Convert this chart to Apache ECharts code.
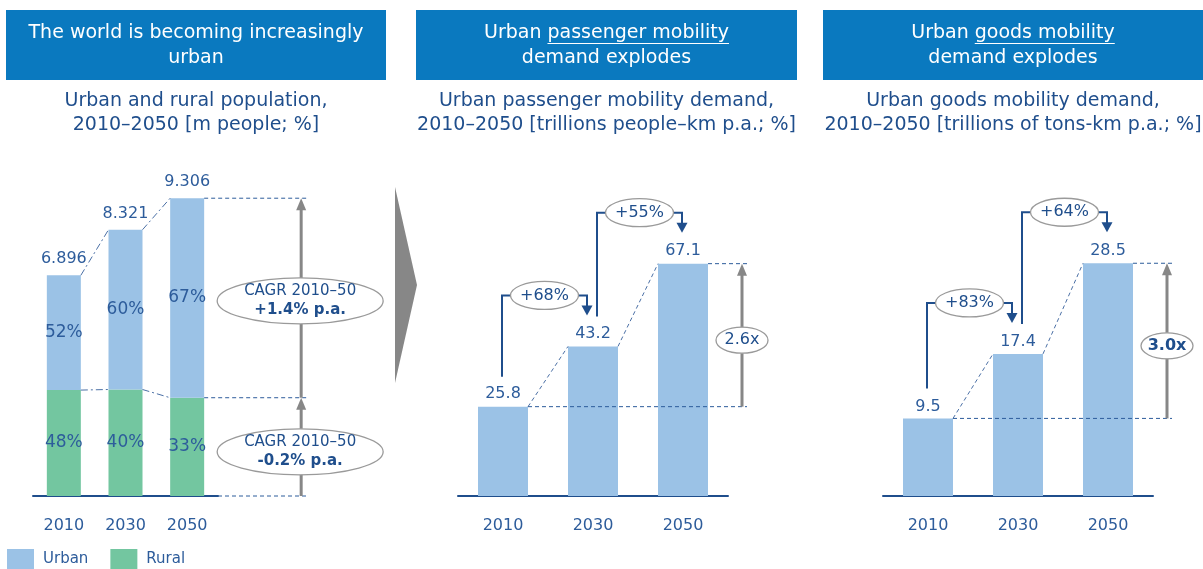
<!DOCTYPE html>
<html>
<head>
<meta charset="utf-8">
<script src="https://cdn.jsdelivr.net/npm/echarts@6/dist/echarts.min.js"></script>
<style>
  html, body { margin: 0; padding: 0; background: #fff; }
  #main { width: 1203px; height: 569px; }
</style>
</head>
<body>
<div id="main"></div>
<script>
// data
const years = ['2010', '2030', '2050'];
const popTotal = [6.896, 8.321, 9.306];
const urbanShare = [52, 60, 67];
const ruralShare = [48, 40, 33];
const popCagr = ['+1.4% p.a.', '-0.2% p.a.'];
const passenger = [25.8, 43.2, 67.1];
const passengerGrowth = ['+68%', '+55%'];
const passengerMultiple = '2.6x';
const goods = [9.5, 17.4, 28.5];
const goodsGrowth = ['+83%', '+64%'];
const goodsMultiple = '3.0x';

const popUrban = popTotal.map((t, i) => +(t * urbanShare[i] / 100).toFixed(3));
const popRural = popTotal.map((t, i) => +(t * ruralShare[i] / 100).toFixed(3));

const FONT = '"DejaVu Sans", sans-serif';
const HEAD_BLUE = '#0A79BF';
const DARK = '#1F4E8C';
const LABEL = '#2D5C9B';
const URBAN = '#9BC2E6';
const RURAL = '#73C6A0';
const GREY = '#878787';
const RING = '#9A9A9A';

const chart = echarts.init(document.getElementById('main'));

function xAx(i) {
  return {
    type: 'category', gridIndex: i, data: years,
    axisLine: { lineStyle: { color: DARK, width: 2 } },
    axisTick: { show: false },
    axisLabel: { color: LABEL, fontSize: 16, fontFamily: FONT, margin: 22 }
  };
}
function yAx(i, max) {
  return { type: 'value', gridIndex: i, min: 0, max: max, show: false, splitLine: { show: false } };
}

chart.setOption({
  animation: false,
  textStyle: { fontFamily: FONT },
  grid: [
    { left: 33, width: 185, top: 176, height: 320 },
    { left: 458, width: 270, top: 219, height: 277 },
    { left: 883, width: 270, top: 251, height: 245 }
  ],
  xAxis: [xAx(0), xAx(1), xAx(2)],
  yAxis: [yAx(0, 10), yAx(1, 80), yAx(2, 30)],
  legend: {
    data: ['Urban', 'Rural'], left: 7, top: 549, padding: 0, icon: 'rect',
    itemWidth: 27, itemHeight: 21, itemGap: 22,
    textStyle: { color: LABEL, fontSize: 15, fontFamily: FONT, padding: [0, 0, 0, 4] }
  },
  series: [
    {
      name: 'Rural', type: 'bar', stack: 'pop', xAxisIndex: 0, yAxisIndex: 0, barWidth: 34,
      data: popRural, itemStyle: { color: RURAL },
      label: { show: true, position: 'inside', color: LABEL, fontSize: 17, fontFamily: FONT,
        formatter: p => ruralShare[p.dataIndex] + '%' }
    },
    {
      name: 'Urban', type: 'bar', stack: 'pop', xAxisIndex: 0, yAxisIndex: 0, barWidth: 34,
      data: popUrban, itemStyle: { color: URBAN },
      label: { show: true, position: 'inside', color: LABEL, fontSize: 17, fontFamily: FONT,
        formatter: p => urbanShare[p.dataIndex] + '%' }
    },
    {
      name: 'Total', type: 'scatter', xAxisIndex: 0, yAxisIndex: 0, symbolSize: 0, silent: true,
      data: popTotal, itemStyle: { opacity: 1 },
      label: { show: true, position: 'top', distance: 8, color: LABEL, opacity: 1, fontSize: 16, fontFamily: FONT,
        formatter: p => popTotal[p.dataIndex].toFixed(3) }
    },
    {
      name: 'Passenger', type: 'bar', xAxisIndex: 1, yAxisIndex: 1, barWidth: 50,
      data: passenger, itemStyle: { color: URBAN },
      label: { show: true, position: 'top', distance: 5, color: LABEL, fontSize: 16, fontFamily: FONT }
    },
    {
      name: 'Goods', type: 'bar', xAxisIndex: 2, yAxisIndex: 2, barWidth: 50,
      data: goods, itemStyle: { color: URBAN },
      label: { show: true, position: 'top', distance: 4, color: LABEL, fontSize: 16, fontFamily: FONT }
    }
  ]
});

// ---------- annotations placed through the axes ----------
const g = [];
function px(ax, i, v) {
  return chart.convertToPixel({ xAxisIndex: ax, yAxisIndex: ax }, [i, v]);
}
function line(x1, y1, x2, y2, color, w, dash) {
  g.push({ type: 'line', silent: true, z: 10,
    shape: { x1: x1, y1: y1, x2: x2, y2: y2 },
    style: { stroke: color, lineWidth: w, lineDash: dash || null } });
}
function upArrow(x, yFrom, yTo, color, w, hw, hh) {
  line(x, yFrom, x, yTo + hh - 1, color, w);
  g.push({ type: 'polygon', silent: true, z: 11,
    shape: { points: [[x - hw / 2, yTo + hh], [x + hw / 2, yTo + hh], [x, yTo]] },
    style: { fill: color } });
}
function downHead(x, tip, color, hw, hh) {
  g.push({ type: 'polygon', silent: true, z: 11,
    shape: { points: [[x - hw / 2, tip - hh], [x + hw / 2, tip - hh], [x, tip]] },
    style: { fill: color } });
}
function bubble(cx, cy, rx, ry, text, size, weight) {
  g.push({ type: 'ellipse', silent: true, z: 12,
    shape: { cx: cx, cy: cy, rx: rx, ry: ry },
    style: { fill: '#fff', stroke: RING, lineWidth: 1.3 } });
  g.push({ type: 'text', silent: true, z: 13, x: cx, y: cy,
    style: { text: text, align: 'center', verticalAlign: 'middle', fill: DARK,
      fontSize: size, fontFamily: FONT, fontWeight: weight || 'normal' } });
}
function cagrBubble(cx, cy, text) {
  g.push({ type: 'ellipse', silent: true, z: 12,
    shape: { cx: cx, cy: cy, rx: 83, ry: 23 },
    style: { fill: '#fff', stroke: RING, lineWidth: 1.3 } });
  g.push({ type: 'text', silent: true, z: 13, x: cx, y: cy,
    style: { text: '{a|CAGR 2010–50}\n{b|' + text + '}', align: 'center', verticalAlign: 'middle',
      rich: {
        a: { fill: DARK, fontSize: 15, fontFamily: FONT, lineHeight: 19 },
        b: { fill: DARK, fontSize: 15, fontFamily: FONT, fontWeight: 'bold', lineHeight: 19 }
      } } });
}

// left chart
(function () {
  const bw = 34;
  const top = popTotal.map((v, i) => px(0, i, v));
  const rTop = popRural.map((v, i) => px(0, i, v));
  const base = px(0, 0, 0)[1];
  const axisEnd = 33 + 185;
  for (let i = 0; i < 2; i++) {
    line(top[i][0] + bw / 2, top[i][1], top[i + 1][0] - bw / 2, top[i + 1][1], '#4A6FA5', 1, [7, 3, 2, 3]);
    line(rTop[i][0] + bw / 2, rTop[i][1], rTop[i + 1][0] - bw / 2, rTop[i + 1][1], '#4A6FA5', 1, [7, 3, 2, 3]);
  }
  const ax = top[2][0] + bw / 2 + 97;
  line(top[2][0] + bw / 2, top[2][1], ax + 6, top[2][1], LABEL, 1, [4, 3]);
  line(rTop[2][0] + bw / 2, rTop[2][1], ax + 6, rTop[2][1], LABEL, 1, [4, 3]);
  line(axisEnd, base, ax + 6, base, LABEL, 1, [4, 3]);
  upArrow(ax, base, rTop[2][1], GREY, 3, 10, 12);
  upArrow(ax, rTop[2][1], top[2][1], GREY, 3, 10, 12);
  cagrBubble(ax - 1, (top[2][1] + rTop[2][1]) / 2 + 3, popCagr[0]);
  cagrBubble(ax - 1, (rTop[2][1] + base) / 2 + 5, popCagr[1]);
})();

// middle and right charts
function mobility(ai, data, growth, mult, bold) {
  const bw = 50;
  const top = data.map((v, i) => px(ai, i, v));
  for (let i = 0; i < 2; i++) {
    line(top[i][0] + bw / 2, top[i][1], top[i + 1][0] - bw / 2, top[i + 1][1], '#4A6FA5', 1, [4, 3]);
  }
  const ax = top[2][0] + bw / 2 + 34;
  line(top[0][0] + bw / 2, top[0][1], ax + 5, top[0][1], LABEL, 1, [4, 3]);
  line(top[2][0] + bw / 2, top[2][1], ax + 5, top[2][1], LABEL, 1, [4, 3]);
  upArrow(ax, top[0][1], top[2][1], GREY, 3, 10, 12);
  bubble(ax, (top[0][1] + top[2][1]) / 2 + 5, 26, 13, mult, 16, bold ? 'bold' : 'normal');
  for (let i = 0; i < 2; i++) {
    const sx = top[i][0] + (i === 0 ? -1 : 4);
    const sy = top[i][1] - 30;
    const hy = top[i + 1][1] - 51;
    const ex = top[i + 1][0] + (i === 0 ? -6 : -1);
    const tip = top[i + 1][1] - 31;
    g.push({ type: 'polyline', silent: true, z: 10,
      shape: { points: [[sx, sy], [sx, hy], [ex, hy], [ex, tip - 9]] },
      style: { stroke: DARK, lineWidth: 2, fill: null } });
    downHead(ex, tip, DARK, 11, 10);
    bubble((sx + ex) / 2, hy, 34, 14, growth[i], 16);
  }
}
mobility(1, passenger, passengerGrowth, passengerMultiple, false);
mobility(2, goods, goodsGrowth, goodsMultiple, true);

// chevron between panels
g.push({ type: 'polygon', silent: true,
  shape: { points: [[395, 187], [417, 285], [395, 383]] },
  style: { fill: GREY } });

// headers and subtitles
const measure = document.createElement('canvas').getContext('2d');
measure.font = '19px "DejaVu Sans"';
function header(x, w, l1, l2, underlined, sub1, sub2) {
  const cx = x + w / 2;
  g.push({ type: 'rect', silent: true, shape: { x: x, y: 10, width: w, height: 70 }, style: { fill: HEAD_BLUE } });
  [[l1, 33], [l2, 58]].forEach(function (t) {
    g.push({ type: 'text', silent: true, x: cx, y: t[1],
      style: { text: t[0], align: 'center', verticalAlign: 'middle', fill: '#fff', fontSize: 19, fontFamily: FONT } });
  });
  if (underlined) {
    const full = measure.measureText(l1).width;
    const pre = measure.measureText(l1.slice(0, l1.indexOf(underlined))).width;
    const x0 = cx - full / 2 + pre;
    line(x0, 43.5, cx + full / 2, 43.5, '#fff', 1);
  }
  [[sub1, 101], [sub2, 125]].forEach(function (t) {
    g.push({ type: 'text', silent: true, x: cx, y: t[1],
      style: { text: t[0], align: 'center', verticalAlign: 'middle', fill: DARK, fontSize: 19, fontFamily: FONT } });
  });
}
header(6, 380, 'The world is becoming increasingly', 'urban', null,
  'Urban and rural population,', '2010–2050 [m people; %]');
header(416, 381, 'Urban passenger mobility', 'demand explodes', 'passenger mobility',
  'Urban passenger mobility demand,', '2010–2050 [trillions people–km p.a.; %]');
header(823, 380, 'Urban goods mobility', 'demand explodes', 'goods mobility',
  'Urban goods mobility demand,', '2010–2050 [trillions of tons-km p.a.; %]');

chart.setOption({ graphic: g });
</script>
</body>
</html>
